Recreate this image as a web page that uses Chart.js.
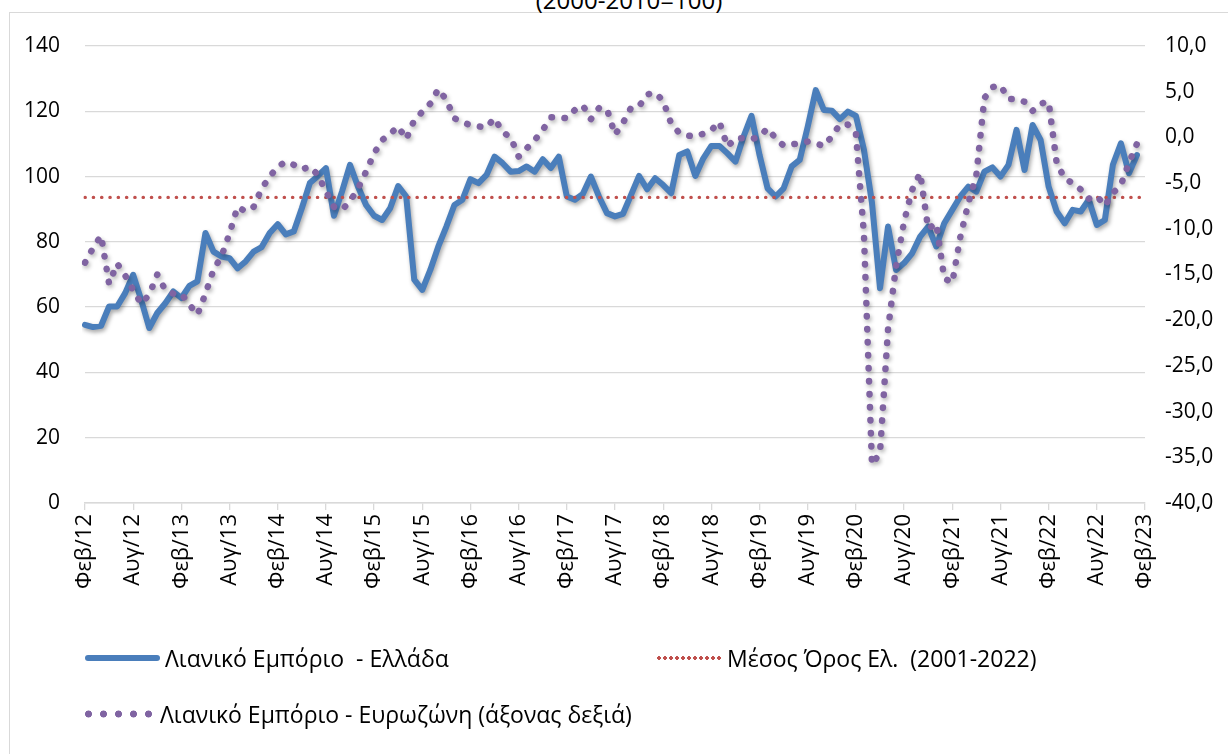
<!DOCTYPE html>
<html><head><meta charset="utf-8">
<script src="https://cdn.jsdelivr.net/npm/chart.js@4.4.1/dist/chart.umd.min.js"></script>
<style>
html,body{margin:0;padding:0;background:#fff;}
#wrap{position:relative;width:1228px;height:754px;overflow:hidden;font-family:'Open Sans',sans-serif;}
#frame{position:absolute;left:9px;top:12px;width:1230px;height:760px;border:1px solid #d9d9d9;box-sizing:border-box;}
#title{position:absolute;left:0;width:1258px;top:-12px;text-align:center;font-size:24px;line-height:24px;color:#000;}
#cv{position:absolute;left:0;top:0;width:1228px;height:754px;}
.leg{position:absolute;font-size:23px;line-height:26px;color:#000;white-space:pre;}
.sw{position:absolute;}
#sw1{left:85px;top:655px;width:75px;height:6px;background:#4A7EBB;border-radius:3px;}
#sw2{left:656px;top:656px;width:67px;height:4px;background:radial-gradient(circle,#C0504D 1.6px,rgba(0,0,0,0) 2px) repeat-x;background-size:6px 4px;}
#sw3{left:81px;top:710px;width:76px;height:8px;background:radial-gradient(circle,#8064A2 3.2px,rgba(0,0,0,0) 3.8px) repeat-x;background-size:15px 8px;}
#t1{left:165px;top:645px;}
#t2{left:727px;top:645px;}
#t3{left:160px;top:701px;}
</style></head>
<body><div id="wrap">
<div id="frame"></div>
<div id="title">(2000-2010=100)</div>
<div id="cv"><canvas id="c"></canvas></div>
<div class="sw" id="sw1"></div><div class="leg" id="t1">Λιανικό Εμπόριο  - Ελλάδα</div>
<div class="sw" id="sw2"></div><div class="leg" id="t2">Μέσος Όρος Ελ.  (2001-2022)</div>
<div class="sw" id="sw3"></div><div class="leg" id="t3">Λιανικό Εμπόριο - Ευρωζώνη (άξονας δεξιά)</div>
</div>
<script>
const monthNames = ['Ιαν','Φεβ','Μαρ','Απρ','Μαϊ','Ιουν','Ιουλ','Αυγ','Σεπ','Οκτ','Νοε','Δεκ'];
const tickLabels = ['Φεβ/12','Αυγ/12','Φεβ/13','Αυγ/13','Φεβ/14','Αυγ/14','Φεβ/15','Αυγ/15','Φεβ/16','Αυγ/16','Φεβ/17','Αυγ/17','Φεβ/18','Αυγ/18','Φεβ/19','Αυγ/19','Φεβ/20','Αυγ/20','Φεβ/21','Αυγ/21','Φεβ/22','Αυγ/22','Φεβ/23'];
const leftTicks = [0,20,40,60,80,100,120,140];
const rightTicks = [-40,-35,-30,-25,-20,-15,-10,-5,0,5,10];
const greeceMean = 93.6;

// Greece retail confidence (left axis), Feb 2012 - Jan 2023
const greece = [
54.6,53.9,54.3,60.2,60.2,64.3,69.9,62.2,53.6,58.2,61.2,64.8,
62.8,66.5,67.9,82.7,77.0,75.5,75.0,71.9,74.0,77.0,78.4,82.7,
85.4,82.3,83.2,90.3,98.0,100.2,102.6,88.0,95.4,103.6,96.9,91.3,
88.0,86.7,90.3,97.1,93.9,68.4,65.3,71.4,78.6,84.7,91.3,92.9,
99.2,98.0,100.5,106.1,104.1,101.5,101.7,103.1,101.5,105.3,102.6,106.1,
93.9,92.9,94.7,100.0,93.9,88.8,87.8,88.6,94.4,100.2,96.1,99.5,
97.4,94.9,106.6,107.7,100.2,105.6,109.4,109.4,107.1,104.6,112.2,118.6,
106.6,96.4,93.9,96.4,103.1,105.1,115.3,126.5,120.4,120.2,117.6,119.9,
118.6,108.2,92.0,65.8,84.7,71.4,73.5,76.5,81.6,84.7,78.6,85.7,
89.8,93.9,96.9,95.4,101.5,102.8,100.0,103.6,114.3,102.0,115.8,111.2,
96.9,89.3,85.7,89.8,89.3,92.9,85.2,86.7,103.6,110.2,101.0,106.6
];
// Euro area retail confidence (right axis), Feb 2012 - Jan 2023
const eurozone = [
-13.7,-12.1,-10.75,-16.0,-13.8,-15.1,-16.7,-18.2,-17.2,-15.0,-16.7,-17.1,
-17.1,-18.3,-19.4,-17.1,-14.5,-13.0,-10.5,-7.6,-8.1,-7.6,-5.6,-4.3,
-3.2,-2.65,-3.0,-3.5,-3.2,-4.1,-5.9,-7.6,-7.9,-7.0,-5.6,-3.75,
-1.75,-0.3,0.4,1.2,-0.2,1.9,2.8,3.7,5.3,4.1,2.1,1.65,
1.35,1.2,1.1,2.1,0.6,0.0,-2.1,-1.2,-0.3,0.8,2.2,2.2,
2.1,3.0,3.5,2.0,3.2,3.1,0.3,1.6,3.25,3.4,4.7,4.9,
4.0,1.5,0.5,0.2,0.1,0.4,0.8,1.7,-1.0,-0.1,-0.1,-0.2,
0.1,1.0,-0.1,-0.9,-0.75,-0.65,-0.45,-0.65,-0.95,0.1,1.4,1.4,
0.4,-10.6,-35.8,-34.5,-21.0,-14.1,-9.2,-5.75,-3.9,-10.0,-9.4,-15.4,
-15.9,-10.9,-7.2,-4.1,4.3,5.5,5.7,4.2,4.2,3.9,2.9,3.7,
3.9,-2.8,-4.5,-5.0,-5.7,-6.7,-6.4,-7.5,-6.1,-5.2,-2.8,-0.7
];

const categories = [];
for (let k = 0; k < 133; k++) {
  const m = (1 + k) % 12;
  const y = 12 + Math.floor((1 + k) / 12);
  categories.push(monthNames[m] + '/' + y);
}
const meanLine = categories.map(() => greeceMean);

const YFONT = {family: "'Open Sans', sans-serif", size: 21};
const XFONT = {family: "'Open Sans', sans-serif", size: 22};

const shadowPlugin = {
  id: 'shadow',
  beforeDatasetDraw(chart, args) {
    const ds = chart.data.datasets[args.index];
    if (!ds.shadowColor) return;
    const ctx = chart.ctx;
    ctx.save();
    ctx.shadowColor = ds.shadowColor;
    ctx.shadowBlur = 4;
    ctx.shadowOffsetX = 1.5;
    ctx.shadowOffsetY = 2.5;
  },
  afterDatasetDraw(chart, args) {
    const ds = chart.data.datasets[args.index];
    if (!ds.shadowColor) return;
    chart.ctx.restore();
  }
};

new Chart(document.getElementById('c'), {
  type: 'line',
  data: {
    labels: categories,
    datasets: [
      {label: 'Λιανικό Εμπόριο - Ευρωζώνη (άξονας δεξιά)', data: eurozone, yAxisID: 'y1',
       borderColor: '#8064A2', borderWidth: 6.5, borderDash: [0.5, 12.5], borderCapStyle: 'round',
       borderJoinStyle: 'round', pointRadius: 0, tension: 0, order: 0, shadowColor: 'rgba(0,0,0,0.3)'},
      {label: 'Μέσος Όρος Ελ.  (2001-2022)', data: meanLine, yAxisID: 'y',
       borderColor: '#C0504D', borderWidth: 3.3, borderDash: [0.3, 8.0], borderCapStyle: 'round',
       pointRadius: 0, tension: 0, order: 1},
      {label: 'Λιανικό Εμπόριο  - Ελλάδα', data: greece, yAxisID: 'y',
       borderColor: '#4A7EBB', borderWidth: 6, borderCapStyle: 'round', borderJoinStyle: 'round',
       pointRadius: 0, tension: 0, order: 2, shadowColor: 'rgba(0,0,0,0.35)'}
    ]
  },
  options: {
    responsive: true, maintainAspectRatio: false, animation: false,
    layout: {padding: {top: 46, bottom: 151, left: 0, right: 0}},
    plugins: {legend: {display: false}, tooltip: {enabled: false}, title: {display: false}},
    scales: {
      x: {
        type: 'category', offset: false,
        grid: {display: true, drawOnChartArea: false, drawTicks: true, tickLength: 7,
               color: c => (c.index % 6 === 0 ? '#d9d9d9' : 'rgba(0,0,0,0)'), lineWidth: 1.3},
        border: {display: true, color: '#d9d9d9', width: 1.5},
        ticks: {autoSkip: false, maxRotation: 90, minRotation: 90, padding: 4, color: '#000', font: XFONT,
                callback: (v, i) => (i % 6 === 0 ? tickLabels[i / 6] : '')},
        afterFit: s => { s.height = 100; }
      },
      y: {
        position: 'left', min: leftTicks[0], max: leftTicks[leftTicks.length - 1],
        ticks: {stepSize: leftTicks[1] - leftTicks[0], padding: 25, color: '#000', font: YFONT},
        grid: {color: '#d9d9d9', lineWidth: 1.3, drawTicks: false},
        border: {display: false},
        afterFit: s => { s.width = 85; }
      },
      y1: {
        position: 'right', min: rightTicks[0], max: rightTicks[rightTicks.length - 1],
        ticks: {stepSize: rightTicks[1] - rightTicks[0], padding: 20, color: '#000', font: YFONT,
                callback: v => v.toFixed(1).replace('.', ',')},
        grid: {drawOnChartArea: false, drawTicks: false},
        border: {display: false},
        afterFit: s => { s.width = 83; }
      }
    }
  },
  plugins: [shadowPlugin]
});
</script>
</body></html>
